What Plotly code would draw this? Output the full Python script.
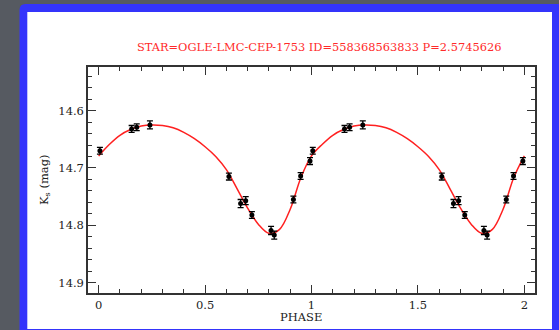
import plotly.graph_objects as go

# ---- data ----
phase = [0.006, 0.155, 0.179, 0.241, 0.612, 0.667, 0.691, 0.720, 0.810, 0.825, 0.915, 0.949, 0.993]
mag = [14.670, 14.632, 14.629, 14.625, 14.715, 14.762, 14.757, 14.782, 14.809, 14.817, 14.755, 14.714, 14.688]
err = [0.006, 0.006, 0.006, 0.007, 0.006, 0.007, 0.007, 0.006, 0.007, 0.007, 0.006, 0.006, 0.006]

curve_phase = [0.00, 0.05, 0.10, 0.15, 0.20, 0.25, 0.30, 0.35, 0.40, 0.45, 0.50,
               0.55, 0.60, 0.65, 0.70, 0.75, 0.80, 0.85, 0.90, 0.95]
curve_mag = [14.679, 14.659, 14.643, 14.633, 14.627, 14.625, 14.626, 14.630, 14.638, 14.649, 14.663,
             14.680, 14.703, 14.736, 14.770, 14.798, 14.814, 14.807, 14.772, 14.717]

title_text = "STAR=OGLE-LMC-CEP-1753 ID=558368563833 P=2.5745626"
x_ticks = [0, 0.5, 1, 1.5, 2]
x_ticklabels = ["0", "0.5", "1", "1.5", "2"]
y_ticks = [14.6, 14.7, 14.8, 14.9]
y_ticklabels = ["14.6", "14.7", "14.8", "14.9"]

# fold over two cycles
ph2 = phase + [p + 1 for p in phase]
mag2 = mag + mag
err2 = err + err
cph2 = curve_phase + [p + 1 for p in curve_phase] + [2.0]
cmag2 = curve_mag + curve_mag + [curve_mag[0]]

W, H = 559, 330
L, R, T, B = 88, 535, 67, 293


def px(x):
    return (x - L) / (R - L)


def py(y):
    return (B - y) / (B - T)


fig = go.Figure()
fig.add_trace(go.Scatter(x=cph2, y=cmag2, mode="lines", line=dict(color="#ff2020", width=1.5, shape="spline", smoothing=1.0),
                         hoverinfo="skip", showlegend=False))
fig.add_trace(go.Scatter(x=ph2, y=mag2, mode="markers",
                         marker=dict(color="black", size=5),
                         error_y=dict(type="data", array=err2, color="black", thickness=1.3, width=3),
                         showlegend=False))

axis_common = dict(showgrid=False, zeroline=False, showline=True, linecolor="#333333", linewidth=1.5,
                   ticks="inside", tickcolor="#333333", tickwidth=1.2, mirror="allticks",
                   tickfont=dict(family="DejaVu Serif", size=11.5, color="#222222"))

fig.update_xaxes(range=[-0.05, 2.05], tickvals=x_ticks, ticktext=x_ticklabels, ticklen=8,
                 minor=dict(dtick=0.1, tick0=0, ticks="inside", ticklen=4, tickcolor="#333333", tickwidth=1.1),
                 **axis_common)
fig.update_yaxes(range=[14.918, 14.524], tickvals=y_ticks, ticktext=y_ticklabels, ticklen=8,
                 minor=dict(dtick=0.02, tick0=14.6, ticks="inside", ticklen=4, tickcolor="#333333", tickwidth=1.1),
                 **axis_common)

shapes = [
    # blue frame
    dict(type="path", xref="paper", yref="paper", layer="below",
         path=f"M {px(19.5)},{py(340)} L {px(19.5)},{py(10)} Q {px(19.5)},{py(4)} {px(25.5)},{py(4)} "
              f"L {px(570)},{py(4)} L {px(570)},{py(340)} Z",
         fillcolor="#3434fb", line=dict(width=0)),
    # white slide
    dict(type="rect", xref="paper", yref="paper", layer="below",
         x0=px(27.3), x1=px(552), y0=py(329), y1=py(12),
         fillcolor="white", line=dict(width=0)),
]

annotations = [
    dict(text=title_text, xref="paper", yref="paper", x=px(319), y=py(47), xanchor="center", yanchor="middle",
         showarrow=False, font=dict(family="DejaVu Serif", size=11.4, color="#ff2a2a")),
    dict(text="PHASE", xref="paper", yref="paper", x=px(301), y=py(317), xanchor="center", yanchor="middle",
         showarrow=False, font=dict(family="DejaVu Serif", size=11.5, color="#222222")),
    dict(text="K<sub>s</sub> (mag)", xref="paper", yref="paper", x=px(44), y=py(180), xanchor="center",
         yanchor="middle", textangle=-90, showarrow=False,
         font=dict(family="DejaVu Serif", size=11.5, color="#222222")),
]

fig.update_layout(width=W, height=H, margin=dict(l=L, r=W - R, t=T, b=H - B),
                  paper_bgcolor="#565a61", plot_bgcolor="white",
                  shapes=shapes, annotations=annotations, showlegend=False)

fig.write_html("out.html", config={"displayModeBar": False})
